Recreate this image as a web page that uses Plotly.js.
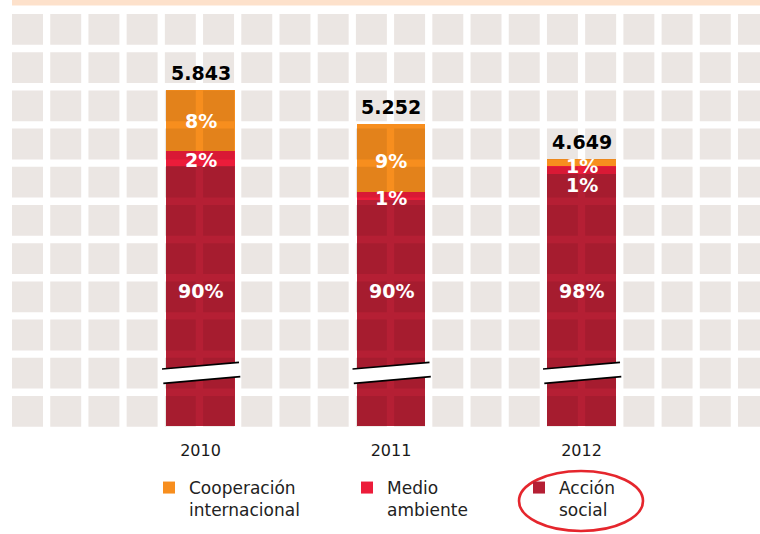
<!DOCTYPE html>
<html><head><meta charset="utf-8">
<script src="https://cdn.plot.ly/plotly-3.0.1.min.js"></script>
<style>html,body{margin:0;padding:0;background:#fff}#chart{width:760px;height:534px}</style>
</head><body><div id="chart"></div>
<script>
// ---- data ----
const years = ['2010', '2011', '2012'];
const totals = [5843, 5252, 4649];
const pctCooperacion = [8, 9, 1];
const pctMedio = [2, 1, 1];
const pctAccion = [90, 90, 98];
const seriesNames = ['Cooperación<br>internacional', 'Medio<br>ambiente', 'Acción<br>social'];

// ---- broken-axis drawing: the small top segments are drawn at a magnified scale ----
const SEG_UNITS_PER_PCT = 132;
const coopH = pctCooperacion.map(p => p * SEG_UNITS_PER_PCT);
const medioH = pctMedio.map(p => p * SEG_UNITS_PER_PCT);
const accionH = totals.map((t, i) => t - coopH[i] - medioH[i]);

// ---- styling ----
const W = 760, H = 534, PH = 426;
const X = px => px / W;
const Y = py => 1 - py / PH;
const FONT = 'DejaVu Sans';
const colCoop = '#f78e1e', colMedio = '#ec1c3a', colAccion = '#b51f34';

// background tiles (decorative)
let tilesPath = '';
for (let c = 0; c < 20; c++) {
  const x0 = 12 + 38.21 * c, x1 = x0 + 31;
  for (let r = 0; r < 11; r++) {
    const y0 = 14 + 38.2 * r, y1 = y0 + 30.8;
    tilesPath += `M${X(x0)},${Y(y0)}L${X(x1)},${Y(y0)}L${X(x1)},${Y(y1)}L${X(x0)},${Y(y1)}Z`;
  }
}

const shapes = [
  {type: 'rect', xref: 'paper', yref: 'paper', x0: X(12), x1: 1, y0: Y(5.5), y1: 1,
   fillcolor: '#fde1cb', line: {width: 0}, layer: 'below'},
  {type: 'path', xref: 'paper', yref: 'paper', path: tilesPath,
   fillcolor: '#fffaf7', line: {width: 0}, layer: 'below'},
  {type: 'path', xref: 'paper', yref: 'paper', path: tilesPath,
   fillcolor: 'rgba(0,0,0,0.08)', line: {width: 0}, layer: 'above'}
];

// axis-break marks on each bar
const pxPerCat = 190.5;
const e = 38.5 / pxPerCat;
const dx = 1.3 / pxPerCat;
years.forEach((yr, i) => {
  const l = i - e, r = i + e;
  shapes.push({type: 'path', xref: 'x', yref: 'paper', layer: 'above',
    path: `M${l},${Y(369)}L${r},${Y(362.3)}L${r + dx},${Y(376.7)}L${l + dx},${Y(383.3)}Z`,
    fillcolor: '#ffffff', line: {width: 0}});
  shapes.push({type: 'path', xref: 'x', yref: 'paper', layer: 'above',
    path: `M${l},${Y(369)}L${r},${Y(362.3)}`, line: {color: '#000', width: 1.7}});
  shapes.push({type: 'path', xref: 'x', yref: 'paper', layer: 'above',
    path: `M${l + dx},${Y(383.3)}L${r + dx},${Y(376.7)}`, line: {color: '#000', width: 1.7}});
});

// hand-drawn highlight around "Acción social"
shapes.push({type: 'circle', xref: 'paper', yref: 'paper', layer: 'above',
  x0: X(519), x1: X(643), y0: Y(531), y1: Y(471),
  line: {color: '#e5262d', width: 2.6}, fillcolor: 'rgba(0,0,0,0)'});

const fmt = n => String(n).replace(/\B(?=(\d{3})+(?!\d))/g, '.');
const labelFont = {family: FONT, size: 19, color: '#ffffff', weight: 'bold'};
const coopShift = [-1, -3, -4];
const medioShift = [-1.5, -2, -15];

const annotations = [];
years.forEach((yr, i) => {
  annotations.push({x: i, y: totals[i], xref: 'x', yref: 'y', text: fmt(totals[i]),
    showarrow: false, yanchor: 'bottom', yshift: 4,
    font: {family: FONT, size: 19, color: '#000000', weight: 'bold'}});
  annotations.push({x: i, y: accionH[i] + medioH[i] + coopH[i] / 2, xref: 'x', yref: 'y',
    text: pctCooperacion[i] + '%', showarrow: false, yanchor: 'middle', yshift: coopShift[i], font: labelFont});
  annotations.push({x: i, y: accionH[i] + medioH[i] / 2, xref: 'x', yref: 'y',
    text: pctMedio[i] + '%', showarrow: false, yanchor: 'middle', yshift: medioShift[i], font: labelFont});
  annotations.push({x: i, y: Y(290.7), xref: 'x', yref: 'paper',
    text: pctAccion[i] + '%', showarrow: false, yanchor: 'middle', font: labelFont});
});

const barCommon = {type: 'bar', x: years, width: 0.362, hoverinfo: 'skip'};
const traces = [
  Object.assign({}, barCommon, {name: seriesNames[2], y: accionH, marker: {color: colAccion, line: {width: 0}}, legend: 'legend3'}),
  Object.assign({}, barCommon, {name: seriesNames[1], y: medioH, marker: {color: colMedio, line: {width: 0}}, legend: 'legend2'}),
  Object.assign({}, barCommon, {name: seriesNames[0], y: coopH, marker: {color: colCoop, line: {width: 0}}, legend: 'legend'})
];

const legendBase = {xref: 'container', yref: 'container', y: 1 - 470 / H, xanchor: 'left', yanchor: 'top',
  orientation: 'v', valign: 'top', bgcolor: 'rgba(0,0,0,0)', borderwidth: 0,
  font: {family: FONT, size: 17, color: '#222222'}};

const layout = {
  width: W, height: H,
  margin: {l: 0, r: 0, t: 0, b: H - PH, autoexpand: false},
  paper_bgcolor: '#ffffff', plot_bgcolor: '#ffffff',
  barmode: 'stack', bargap: 0,
  showlegend: true,
  legend: Object.assign({}, legendBase, {x: (189 - 40) / W}),
  legend2: Object.assign({}, legendBase, {x: (387 - 40) / W}),
  legend3: Object.assign({}, legendBase, {x: (559 - 40) / W}),
  xaxis: {type: 'category', range: [-200.5 / pxPerCat, (W - 200.5) / pxPerCat], automargin: false,
    showgrid: false, zeroline: false, showline: false, ticks: '',
    ticklabelstandoff: 13, tickfont: {family: FONT, size: 16, color: '#1a1a1a'}, fixedrange: true},
  yaxis: {range: [0, PH / (336 / 5843)], visible: false, fixedrange: true, automargin: false},
  shapes: shapes,
  annotations: annotations
};

Plotly.newPlot('chart', traces, layout, {staticPlot: true, displayModeBar: false});
</script>
</body></html>
